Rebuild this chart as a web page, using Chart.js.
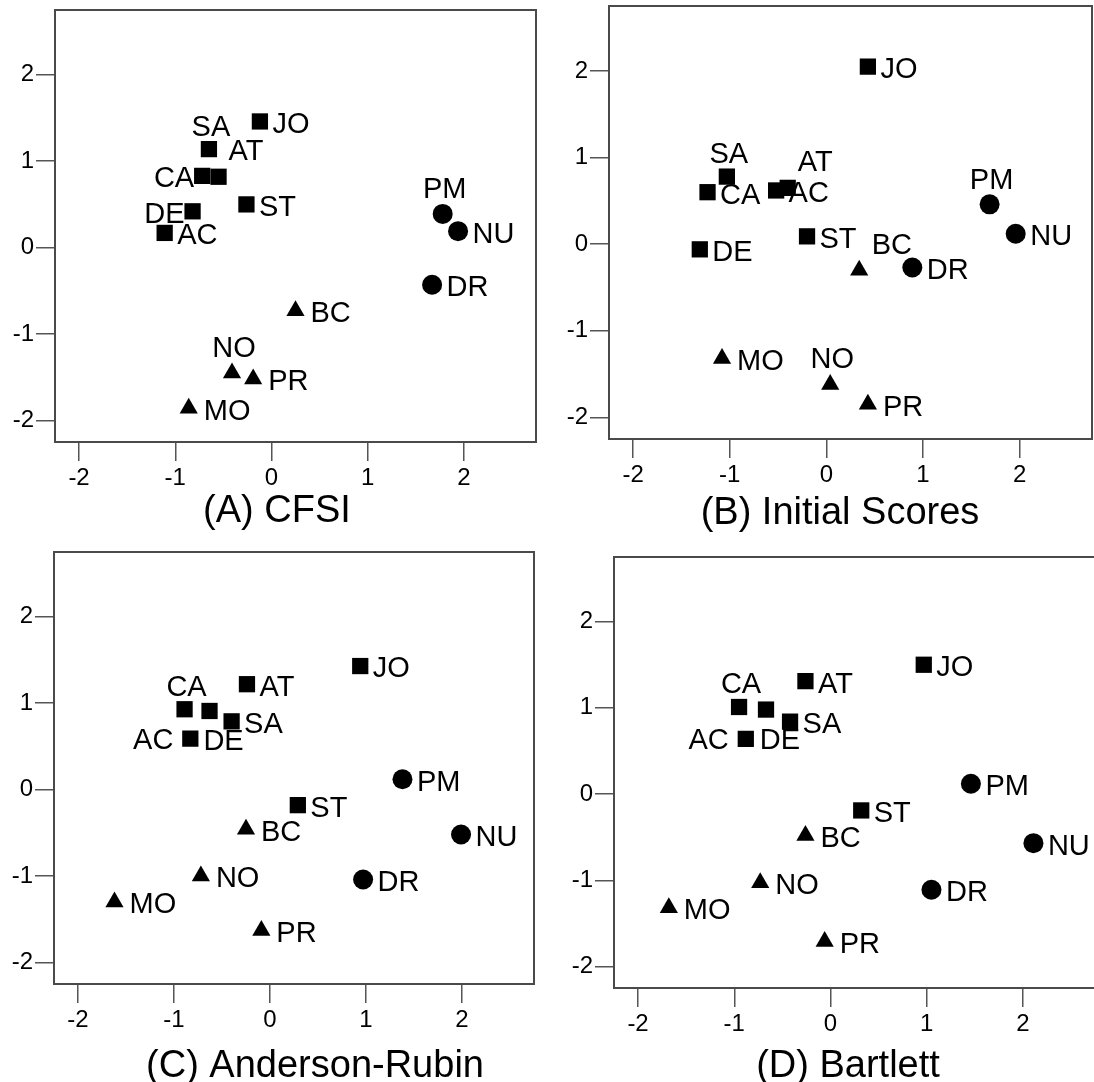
<!DOCTYPE html>
<html>
<head>
<meta charset="utf-8">
<title>Factor score plots</title>
<script src="https://cdn.jsdelivr.net/npm/chart.js@4.4.1/dist/chart.umd.min.js"></script>
<style>
  html, body { margin: 0; padding: 0; background: #fff; overflow: hidden; }
  body { width: 1094px; height: 1082px; position: relative; }
  canvas { position: absolute; }
</style>
</head>
<body>
<canvas id="panelA" width="547" height="541" style="left:0;top:0"></canvas>
<canvas id="panelB" width="547" height="541" style="left:547px;top:0"></canvas>
<canvas id="panelC" width="547" height="541" style="left:0;top:541px"></canvas>
<canvas id="panelD" width="549" height="541" style="left:547px;top:541px"></canvas>
<script>
// ---- data ----------------------------------------------------------------
const sites = ['JO', 'SA', 'AT', 'CA', 'DE', 'AC', 'ST', 'PM', 'NU', 'DR', 'BC', 'NO', 'PR', 'MO'];
const siteGroup = ['sq', 'sq', 'sq', 'sq', 'sq', 'sq', 'sq', 'ci', 'ci', 'ci', 'tr', 'tr', 'tr', 'tr'];

const cfsiX = [-0.12, -0.65, -0.55, -0.72, -0.82, -1.11, -0.26, 1.78, 1.94, 1.67, 0.25, -0.41, -0.19, -0.86];
const cfsiY = [1.46, 1.14, 0.82, 0.83, 0.42, 0.17, 0.50, 0.39, 0.19, -0.43, -0.73, -1.45, -1.52, -1.86];

const initialX = [0.43, -1.03, -0.40, -1.23, -1.31, -0.52, -0.20, 1.69, 1.96, 0.89, 0.34, 0.04, 0.43, -1.08];
const initialY = [2.05, 0.78, 0.65, 0.60, -0.06, 0.62, 0.09, 0.46, 0.12, -0.27, -0.30, -1.62, -1.85, -1.32];

const andersonX = [0.94, -0.40, -0.24, -0.89, -0.63, -0.83, 0.29, 1.38, 1.99, 0.97, -0.25, -0.72, -0.09, -1.62];
const andersonY = [1.43, 0.79, 1.22, 0.93, 0.91, 0.59, -0.18, 0.12, -0.52, -1.04, -0.46, -1.00, -1.63, -1.30];

const bartlettX = [0.97, -0.42, -0.26, -0.95, -0.67, -0.88, 0.32, 1.46, 2.11, 1.05, -0.26, -0.73, -0.06, -1.68];
const bartlettY = [1.50, 0.84, 1.31, 1.01, 0.98, 0.64, -0.19, 0.12, -0.57, -1.11, -0.48, -1.03, -1.71, -1.32];

const tickValues = [-2, -1, 0, 1, 2];
const tickLabels = ['-2', '-1', '0', '1', '2'];

// where each site name sits relative to its marker: r right, l left,
// L farther left, t above, tr above-right, br below-right
const cfsiSides     = ['r', 't', 'tr', 'l', 'l', 'r', 'r', 't', 'r', 'r', 'r', 't', 'r', 'r'];
const initialSides  = ['r', 't', 'tr', 'r', 'r', 'r', 'r', 't', 'r', 'r', 'tr', 't', 'r', 'r'];
const andersonSides = ['r', 'r', 'r', 't', 'br', 'L', 'r', 'r', 'r', 'r', 'r', 'r', 'r', 'r'];
const bartlettSides = ['r', 'r', 'r', 't', 'br', 'L', 'r', 'r', 'r', 'r', 'r', 'r', 'r', 'r'];

// ---- styling -------------------------------------------------------------
const FONT = "'Liberation Sans', Arial, Helvetica, sans-serif";
const groupStyle = {
  sq: { pointStyle: 'rect', radius: 11.5, half: 8 },
  ci: { pointStyle: 'circle', radius: 10, half: 10 },
  tr: { pointStyle: 'triangle', radius: 10.5, half: 10.5 }
};

// site names next to the markers
const siteLabels = {
  id: 'siteLabels',
  afterDatasetsDraw(chart) {
    const ctx = chart.ctx;
    ctx.save();
    ctx.font = '29px ' + FONT;
    ctx.fillStyle = '#000';
    ctx.textBaseline = 'alphabetic';
    chart.data.datasets.forEach((ds, di) => {
      const meta = chart.getDatasetMeta(di);
      meta.data.forEach((pt, i) => {
        const text = ds.names[i];
        const side = ds.sides[i];
        const half = ds.half;
        let x, y = pt.y + 10.4, align;
        if (side === 'l') { align = 'right'; x = pt.x - half; y += 1; }
        else if (side === 'L') { align = 'right'; x = pt.x - half - 9; }
        else if (side === 't') { align = 'center'; x = pt.x + 2; y += -half - 16; }
        else if (side === 'tr') { align = 'left'; x = pt.x + half + 2; y += -27; }
        else if (side === 'br') { align = 'center'; x = pt.x + 14; y += 29; }
        else { align = 'left'; x = pt.x + half + 4.5; y += 1; }
        ctx.textAlign = align;
        ctx.fillText(text, x, y);
      });
    });
    ctx.restore();
  }
};

// box around the plotting area
const frame = {
  id: 'frame',
  beforeDatasetsDraw(chart) {
    const a = chart.chartArea, ctx = chart.ctx;
    ctx.save();
    ctx.strokeStyle = '#4a4a4a';
    ctx.lineWidth = 2;
    ctx.strokeRect(a.left, a.top, a.right - a.left, a.bottom - a.top);
    ctx.restore();
  }
};

// panel caption under the x axis
const caption = {
  id: 'caption',
  afterDraw(chart, args, opts) {
    const ctx = chart.ctx;
    ctx.save();
    ctx.font = '38px ' + FONT;
    ctx.fillStyle = '#000';
    ctx.textAlign = 'center';
    ctx.textBaseline = 'alphabetic';
    ctx.fillText(opts.text, opts.x, opts.y + 13.6);
    ctx.restore();
  }
};

function buildDatasets(xs, ys, sides) {
  return ['sq', 'ci', 'tr'].map(g => {
    const idx = sites.map((s, i) => i).filter(i => siteGroup[i] === g);
    const st = groupStyle[g];
    return {
      data: idx.map(i => ({ x: xs[i], y: ys[i] })),
      names: idx.map(i => sites[i]),
      sides: idx.map(i => sides[i]),
      half: st.half,
      pointStyle: st.pointStyle,
      pointRadius: st.radius,
      pointHoverRadius: st.radius,
      pointBackgroundColor: '#000',
      pointBorderColor: '#000',
      pointBorderWidth: 0,
      showLine: false
    };
  });
}

function axis(sizeKey, size, padding) {
  return {
    type: 'linear',
    min: -2.25,
    max: 2.75,
    afterBuildTicks: s => { s.ticks = tickValues.map(v => ({ value: v })); },
    afterFit: s => {
      s[sizeKey] = size;
      // the plotting area is placed by the layout padding alone
      s.paddingLeft = 0; s.paddingRight = 0; s.paddingTop = 0; s.paddingBottom = 0;
    },
    grid: { drawOnChartArea: false, drawTicks: true, tickLength: 19, color: '#555', lineWidth: 1.5 },
    border: { display: false },
    ticks: {
      font: { family: FONT, size: 24 },
      color: '#000',
      padding: padding,
      autoSkip: false,
      maxRotation: 0,
      callback: v => tickLabels[tickValues.indexOf(v)]
    }
  };
}

function makePanel(id, xs, ys, sides, title, geo) {
  new Chart(document.getElementById(id), {
    type: 'scatter',
    data: { datasets: buildDatasets(xs, ys, sides) },
    options: {
      responsive: false,
      animation: false,
      events: [],
      layout: {
        autoPadding: false,
        padding: { left: 0, right: geo.padRight, top: geo.padTop, bottom: 0 }
      },
      scales: {
        x: axis('height', geo.xAxisHeight, 3),
        y: axis('width', geo.yAxisWidth, 2)
      },
      plugins: {
        legend: { display: false },
        tooltip: { enabled: false },
        caption: { text: title, x: geo.capX, y: geo.capY }
      }
    },
    plugins: [frame, siteLabels, caption]
  });
}

makePanel('panelA', cfsiX, cfsiY, cfsiSides, '(A) CFSI',
  { yAxisWidth: 55, padRight: 11, padTop: 10, xAxisHeight: 99, capX: 277, capY: 508 });
makePanel('panelB', initialX, initialY, initialSides, '(B) Initial Scores',
  { yAxisWidth: 62, padRight: 2, padTop: 6, xAxisHeight: 102, capX: 293, capY: 510 });
makePanel('panelC', andersonX, andersonY, andersonSides, '(C) Anderson-Rubin',
  { yAxisWidth: 54, padRight: 13, padTop: 11, xAxisHeight: 98, capX: 315, capY: 522 });
makePanel('panelD', bartlettX, bartlettY, bartlettSides, '(D) Bartlett',
  { yAxisWidth: 67, padRight: 1, padTop: 16, xAxisHeight: 94, capX: 301, capY: 522 });
</script>
</body>
</html>
